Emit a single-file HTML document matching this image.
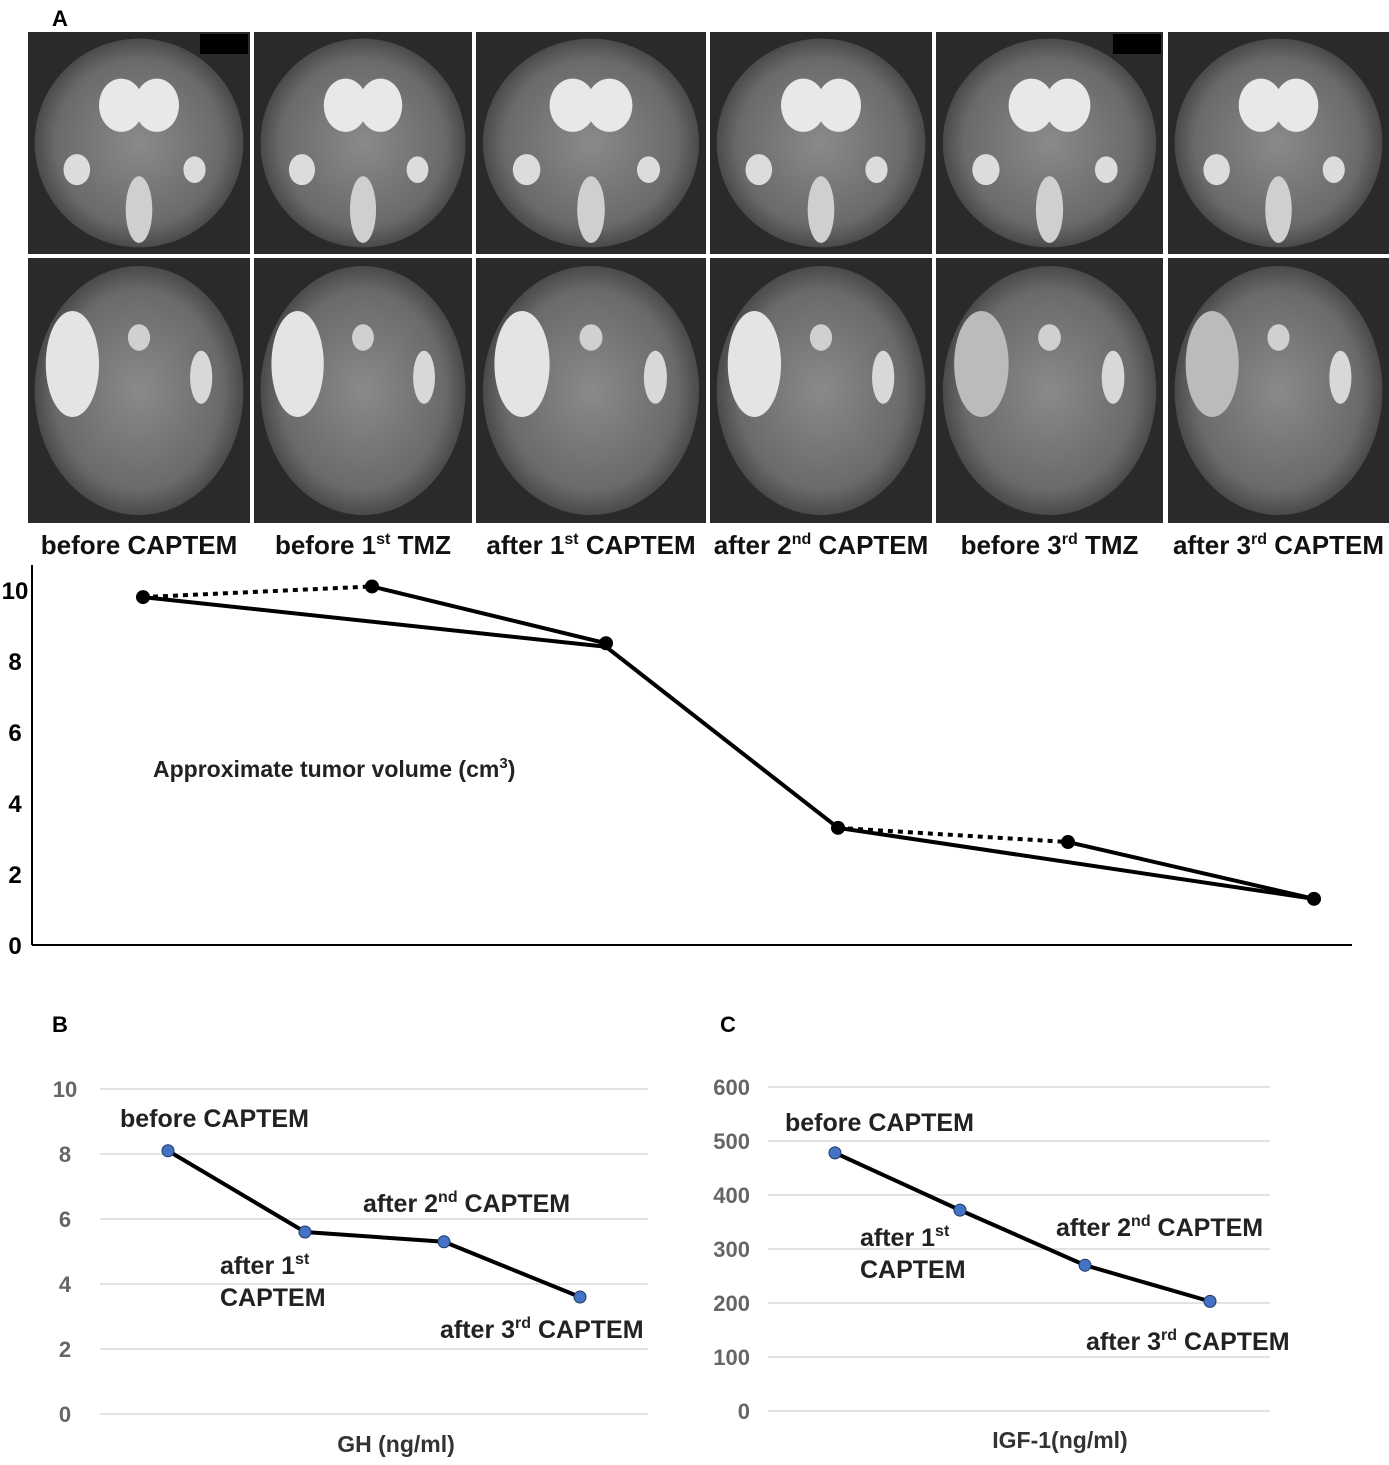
<!DOCTYPE html>
<html><head><meta charset="utf-8">
<style>
body{margin:0;background:#fff;width:1389px;height:1460px;overflow:hidden;font-family:"Liberation Sans",Arial,sans-serif}
svg text{font-family:"Liberation Sans",Arial,sans-serif}
</style></head>
<body>
<svg id="fig" width="1389" height="1460" viewBox="0 0 1389 1460">
<defs>
<radialGradient id="brain" cx="50%" cy="50%" r="50%">
<stop offset="0%" stop-color="#8a8a8a"/><stop offset="80%" stop-color="#6a6a6a"/><stop offset="100%" stop-color="#4a4a4a"/>
</radialGradient>
</defs>
<text x="52" y="26" font-size="22" font-weight="bold">A</text>
<g id="mri"></g>
<g id="mrilabels"></g>
<g id="chartA"></g>
<text x="52" y="1032" font-size="22" font-weight="bold">B</text>
<g id="chartB"></g>
<text x="720" y="1032" font-size="22" font-weight="bold">C</text>
<g id="chartC"></g>
</svg>
<script>
const NS="http://www.w3.org/2000/svg";
function mk(p,t,a,txt){const e=document.createElementNS(NS,t);for(const k in a)e.setAttribute(k,a[k]);if(txt!==undefined)e.textContent=txt;p.appendChild(e);return e;}

// MRI panels
const panelX=[[28,250],[254,472],[476,706],[710,932],[936,1163],[1168,1389]];
const rows=[[32,254],[258,523]];
const mri=document.getElementById('mri');
panelX.forEach((px,i)=>{rows.forEach((r,j)=>{
  const w=px[1]-px[0],h=r[1]-r[0];
  const g=mk(mri,'g',{});
  
  
  mk(g,'rect',{x:px[0],y:r[0],width:w,height:h,fill:'#2a2a2a'});
  mk(g,'ellipse',{cx:px[0]+w/2,cy:r[0]+h/2,rx:w*0.47,ry:h*0.47,fill:'url(#brain)'});
  if(j===0){
    mk(g,'ellipse',{cx:px[0]+w*0.42,cy:r[0]+h*0.33,rx:w*0.1,ry:h*0.12,fill:'#e8e8e8'});
    mk(g,'ellipse',{cx:px[0]+w*0.58,cy:r[0]+h*0.33,rx:w*0.1,ry:h*0.12,fill:'#e8e8e8'});
    mk(g,'ellipse',{cx:px[0]+w*0.5,cy:r[0]+h*0.8,rx:w*0.06,ry:h*0.15,fill:'#cfcfcf'});
    mk(g,'ellipse',{cx:px[0]+w*0.22,cy:r[0]+h*0.62,rx:w*0.06,ry:h*0.07,fill:'#dcdcdc'});
    mk(g,'ellipse',{cx:px[0]+w*0.75,cy:r[0]+h*0.62,rx:w*0.05,ry:h*0.06,fill:'#dcdcdc'});
  } else {
    mk(g,'ellipse',{cx:px[0]+w*0.2,cy:r[0]+h*0.4,rx:w*0.12,ry:h*0.2,fill:i<4?'#e4e4e4':'#bbbbbb'});
    mk(g,'ellipse',{cx:px[0]+w*0.5,cy:r[0]+h*0.3,rx:w*0.05,ry:h*0.05,fill:'#d0d0d0'});
    mk(g,'ellipse',{cx:px[0]+w*0.78,cy:r[0]+h*0.45,rx:w*0.05,ry:h*0.1,fill:'#d8d8d8'});
  }
  if(j===0&&(i===0||i===4)) mk(g,'rect',{x:px[1]-50,y:r[0]+2,width:48,height:20,fill:'#000'});
});});

const mriLabels=[["before CAPTEM",""],["before 1","st"," TMZ"],["after 1","st"," CAPTEM"],["after 2","nd"," CAPTEM"],["before 3","rd"," TMZ"],["after 3","rd"," CAPTEM"]];
const ml=document.getElementById('mrilabels');
mriLabels.forEach((l,i)=>{
  const t=mk(ml,'text',{x:(panelX[i][0]+panelX[i][1])/2,y:554,'font-size':26,'font-weight':'bold','text-anchor':'middle',fill:'#111'});
  
  
  mk(t,'tspan',{},l[0]);
  if(l[1]){mk(t,'tspan',{dy:-10,'font-size':16},l[1]);mk(t,'tspan',{dy:10},l[2]);}
});

// Chart A
const aX=[143,372,606,838,1068,1314];
const aVals=[9.8,10.1,8.5,3.3,2.9,1.3];
const aValsLow=[9.8,10.1,8.4,3.3,2.9,1.3];
const aTicks=[0,2,4,6,8,10];
const yA=v=>945-v*35.5;
const cA=document.getElementById('chartA');
mk(cA,'line',{x1:32,y1:565,x2:32,y2:945,stroke:'#000','stroke-width':2});
mk(cA,'line',{x1:32,y1:945,x2:1352,y2:945,stroke:'#000','stroke-width':2});
aTicks.forEach(t=>{const e=mk(cA,'text',{x:15,y:yA(t)+9,'font-size':24,'font-weight':'bold','text-anchor':'middle'},t);
});
const segs=[[0,1,true],[0,2,false],[1,2,false],[2,3,false],[3,4,true],[3,5,false],[4,5,false]];
segs.forEach(s=>{
  const v0=s[0]===2?aValsLow[2]:aVals[s[0]], v1=(s[1]===2&&s[0]===0)?aValsLow[2]:aVals[s[1]];
  const l=mk(cA,'line',{x1:aX[s[0]],y1:yA(v0),x2:aX[s[1]],y2:yA(v1),stroke:'#000','stroke-width':4,'stroke-dasharray':s[2]?'5,5':'none'});
  
});
aVals.forEach((v,i)=>{const c=mk(cA,'circle',{cx:aX[i],cy:yA(v),r:7,fill:'#000'});
});
const at=mk(cA,'text',{x:153,y:777,'font-size':23,'font-weight':'bold',fill:'#222'});

mk(at,'tspan',{},'Approximate tumor volume (cm');mk(at,'tspan',{dy:-9,'font-size':15},'3');mk(at,'tspan',{dy:9},')');

// Chart B
const bX=[168,305,444,580];
const bVals=[8.1,5.6,5.3,3.6];
const bTicks=[0,2,4,6,8,10];
const yB=v=>1414-v*32.5;
const cB=document.getElementById('chartB');
bTicks.forEach(t=>{
  mk(cB,'line',{x1:100,y1:yB(t),x2:648,y2:yB(t),stroke:'#d9d9d9','stroke-width':1.5});
  const e=mk(cB,'text',{x:65,y:yB(t)+8,'font-size':22,'font-weight':'bold',fill:'#666','text-anchor':'middle'},t);
  
});
const pB=mk(cB,'polyline',{points:bVals.map((v,i)=>bX[i]+','+yB(v)).join(' '),fill:'none',stroke:'#000','stroke-width':4});

bVals.forEach((v,i)=>{const c=mk(cB,'circle',{cx:bX[i],cy:yB(v),r:6,fill:'#4472c4',stroke:'#1f3864','stroke-width':1});
});
function lab(p,x,y,a,b,c){const t=mk(p,'text',{x:x,y:y,'font-size':25,'font-weight':'bold',fill:'#222'});

mk(t,'tspan',{},a);if(b){mk(t,'tspan',{dy:-10,'font-size':16},b);mk(t,'tspan',{dy:10},c);}return t;}
lab(cB,120,1127,'before CAPTEM');
lab(cB,363,1212,'after 2','nd',' CAPTEM');
lab(cB,220,1274,'after 1','st','');
lab(cB,220,1306,'CAPTEM');
lab(cB,440,1338,'after 3','rd',' CAPTEM');
const tb=mk(cB,'text',{x:396,y:1452,'font-size':23,'font-weight':'bold','text-anchor':'middle',fill:'#333'},'GH (ng/ml)');


// Chart C
const cX=[835,960,1085,1210];
const cVals=[478,372,270,203];
const cTicks=[0,100,200,300,400,500,600];
const yC=v=>1411-v*0.54;
const cC=document.getElementById('chartC');
cTicks.forEach(t=>{
  mk(cC,'line',{x1:768,y1:yC(t),x2:1270,y2:yC(t),stroke:'#d9d9d9','stroke-width':1.5});
  const e=mk(cC,'text',{x:750,y:yC(t)+8,'font-size':22,'font-weight':'bold',fill:'#666','text-anchor':'end'},t);
  
});
const pC=mk(cC,'polyline',{points:cVals.map((v,i)=>cX[i]+','+yC(v)).join(' '),fill:'none',stroke:'#000','stroke-width':4});

cVals.forEach((v,i)=>{const c=mk(cC,'circle',{cx:cX[i],cy:yC(v),r:6,fill:'#4472c4',stroke:'#1f3864','stroke-width':1});
});
lab(cC,785,1131,'before CAPTEM');
lab(cC,860,1246,'after 1','st','');
lab(cC,860,1278,'CAPTEM');
lab(cC,1056,1236,'after 2','nd',' CAPTEM');
lab(cC,1086,1350,'after 3','rd',' CAPTEM');
const tc=mk(cC,'text',{x:1060,y:1448,'font-size':23,'font-weight':'bold','text-anchor':'middle',fill:'#333'},'IGF-1(ng/ml)');

</script>
</body></html>
